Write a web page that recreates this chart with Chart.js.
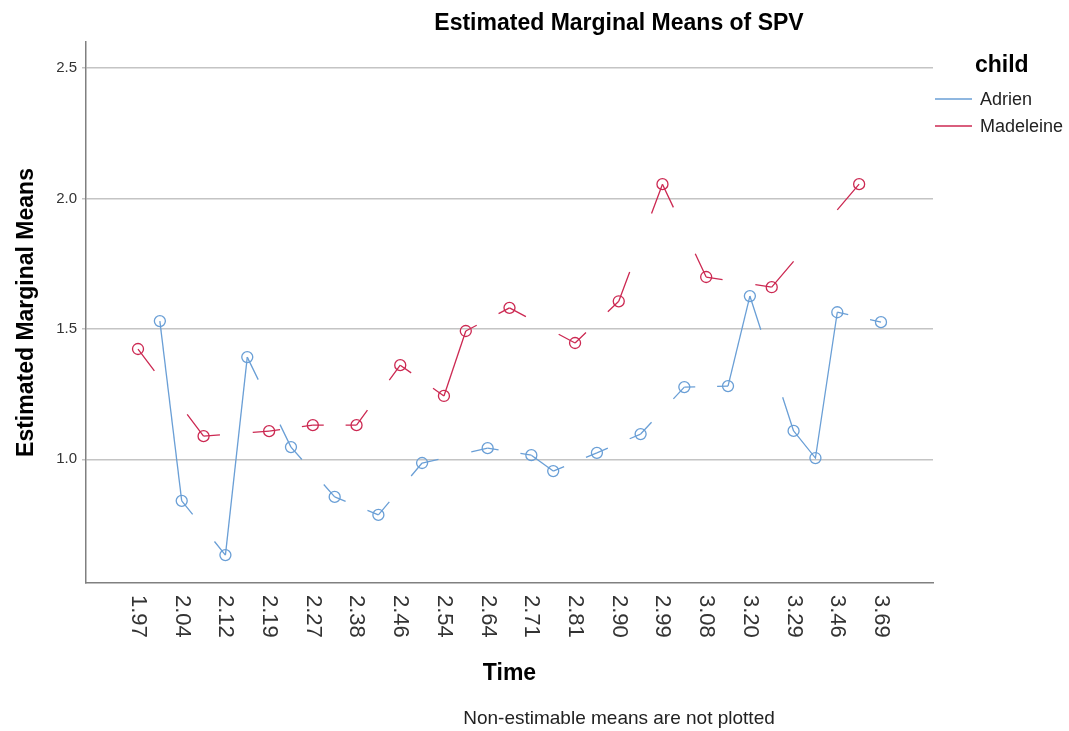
<!DOCTYPE html>
<html>
<head>
<meta charset="utf-8">
<script src="https://cdn.jsdelivr.net/npm/chart.js@4"></script>
<style>
html,body{margin:0;padding:0;background:#fff;}
#wrap{width:1069px;height:731px;position:relative;}
</style>
</head>
<body>
<div id="wrap"><canvas id="c"></canvas></div>
<script>
// Axis tick labels (every other time point is labelled)
const timeLabels = ['1.97','2.04','2.12','2.19','2.27','2.38','2.46','2.54','2.64','2.71','2.81','2.90','2.99','3.08','3.20','3.29','3.46','3.69'];
const yTicks = [1.0, 1.5, 2.0, 2.5];
const seriesNames = ['Adrien', 'Madeleine'];
// 35 time points (index 0..34), null = non-estimable
const adrien = [null,1.530,0.841,null,0.633,1.392,null,1.047,null,0.856,null,0.787,null,0.986,null,null,1.043,null,1.016,0.955,null,1.025,null,1.097,null,1.277,null,1.281,1.626,null,1.109,1.005,1.564,null,1.526];
const madeleine = [1.423,null,null,1.089,null,null,1.108,null,1.131,null,1.131,null,1.361,null,1.243,1.492,null,1.581,null,null,1.446,null,1.606,null,2.055,null,1.699,null,null,1.660,null,null,null,2.055,null];

const BLUE = '#6a9fd6';
const RED = '#cc2952';
const FONT = '"Liberation Sans", Arial, Helvetica, sans-serif';

function toXY(arr){ return arr.map((v,i)=>({x:i, y:v})); }

// Lines between non-adjacent estimable points are only drawn for the first and last quarter
function gapDash(arr){
  return ctx => {
    const j = ctx.p1DataIndex;
    let a = j - 1; while (a >= 0 && arr[a] === null) a--;
    let b = j; while (b < arr.length && arr[b] === null) b++;
    if (a < 0 || b >= arr.length || b - a <= 1) return [];
    const xs = ctx.chart.scales.x, ys = ctx.chart.scales.y;
    const dx = xs.getPixelForValue(b) - xs.getPixelForValue(a);
    const dy = ys.getPixelForValue(arr[b]) - ys.getPixelForValue(arr[a]);
    const L = Math.hypot(dx, dy);
    return [L*0.25, L*0.5, L*0.25, 0];
  };
}

function ds(label, arr, color){
  return {
    label, data: toXY(arr), borderColor: color, backgroundColor: color,
    borderWidth: 1.3, tension: 0, spanGaps: true, fill: false,
    pointRadius: 5.5, pointBorderWidth: 1.3, pointBorderColor: color,
    pointBackgroundColor: 'rgba(0,0,0,0)', pointHoverRadius: 5.5,
    segment: { borderDash: gapDash(arr) }
  };
}

const textPlugin = {
  id: 'texts',
  afterDraw(chart){
    const c = chart.ctx, xs = chart.scales.x, area = chart.chartArea;
    c.save();
    // x tick labels, rotated clockwise
    c.fillStyle = '#333';
    c.font = '22px ' + FONT;
    c.textAlign = 'left'; c.textBaseline = 'middle';
    timeLabels.forEach((t,k) => {
      const x = xs.getPixelForValue(k*2);
      c.save(); c.translate(x, area.bottom + 12); c.rotate(Math.PI/2); c.fillText(t, 0, 0); c.restore();
    });
    // title
    c.fillStyle = '#000';
    c.textBaseline = 'alphabetic';
    c.textAlign = 'center';
    c.font = 'bold 23px ' + FONT;
    c.fillText('Estimated Marginal Means of SPV', 619, 30);
    // x axis title
    c.fillText('Time', (area.left + area.right)/2, 680);
    // y axis title
    c.save(); c.translate(33, (area.top + area.bottom)/2); c.rotate(-Math.PI/2);
    c.fillText('Estimated Marginal Means', 0, 0); c.restore();
    // footnote
    c.font = '19px ' + FONT;
    c.fillStyle = '#222';
    c.fillText('Non-estimable means are not plotted', 619, 724);
    // legend
    c.textAlign = 'left';
    c.fillStyle = '#000';
    c.font = 'bold 23px ' + FONT;
    c.fillText('child', 975, 72);
    c.font = '18px ' + FONT;
    c.textBaseline = 'middle';
    const ly = [99, 126];
    chart.data.datasets.forEach((d,i) => {
      c.strokeStyle = d.borderColor; c.lineWidth = 1.3;
      c.beginPath(); c.moveTo(935, ly[i]); c.lineTo(972, ly[i]); c.stroke();
      c.fillStyle = '#222';
      c.fillText(seriesNames[i], 980, ly[i] + 1);
    });
    c.restore();
  }
};

new Chart(document.getElementById('c'), {
  type: 'line',
  data: { datasets: [ ds(seriesNames[0], adrien, BLUE), ds(seriesNames[1], madeleine, RED) ] },
  options: {
    responsive: true, maintainAspectRatio: false, animation: false, events: [],
    layout: { padding: { top: 42, right: 136, left: 0, bottom: 0 } },
    plugins: { legend: { display: false }, title: { display: false }, tooltip: { enabled: false } },
    scales: {
      x: {
        type: 'linear', min: -2.38, max: 36.38,
        afterBuildTicks(s){ s.ticks = timeLabels.map((_,k)=>({value:k*2})); },
        afterFit(s){ s.height = 148; },
        ticks: { display: false },
        grid: { display: false },
        border: { display: true, color: '#808080', width: 1.5 }
      },
      y: {
        type: 'linear', min: 0.526, max: 2.6,
        afterBuildTicks(s){ s.ticks = yTicks.map(v=>({value:v})); },
        afterFit(s){ s.width = 86; },
        ticks: { callback: v => Number(v).toFixed(1), color: '#333', padding: 5, font: { size: 15, family: FONT } },
        grid: { color: '#c4c4c4', lineWidth: 1.5, tickLength: 4, drawTicks: true },
        border: { display: true, color: '#808080', width: 1.5 }
      }
    }
  },
  plugins: [textPlugin]
});
</script>
</body>
</html>
